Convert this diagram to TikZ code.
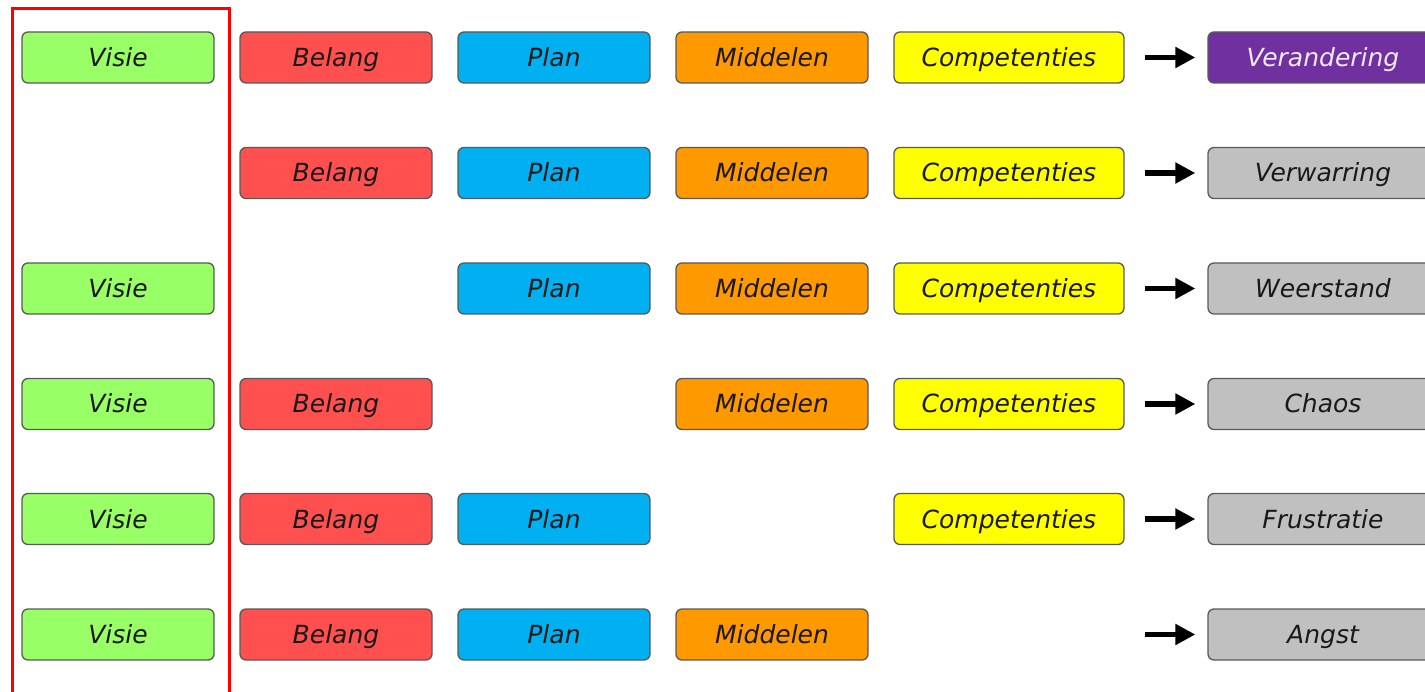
\documentclass[tikz,border=0pt]{standalone}
\usepackage{fontspec}
\setmainfont{DejaVu Sans}
\usetikzlibrary{positioning, arrows.meta}
\definecolor{visiegreen}{HTML}{99FF66}
\definecolor{belangred}{HTML}{FF5050}
\definecolor{planblue}{HTML}{00B0F0}
\definecolor{middelorange}{HTML}{FF9900}
\definecolor{compyellow}{HTML}{FFFF00}
\definecolor{verpurple}{HTML}{7030A0}
\definecolor{restgray}{HTML}{C0C0C0}
\tikzset{
box/.style={draw=black!65, line width=1.3pt, rounded corners=6pt, minimum width=192pt, minimum height=51pt, inner sep=0pt, text height=18pt, text depth=0pt, font=\fontsize{25}{30}\selectfont\itshape, text=black!90}, % common look of all boxes
visie/.style={box, fill=visiegreen},
belang/.style={box, fill=belangred},
plan/.style={box, fill=planblue},
middel/.style={box, fill=middelorange},
comp/.style={box, fill=compyellow, minimum width=230pt},
result/.style={box, fill=restgray, minimum width=230pt},
leads/.style={line width=5.5pt, -{Triangle[length=20pt, width=20pt]}, shorten >=12pt}, % the black arrows
}

\begin{document}
\begin{tikzpicture}[x=1pt, y=-1pt]
    \useasboundingbox (0,0) rectangle (1425,692);
    \clip (0,0) rectangle (1425,692);
    % row 1
    \node[visie] (v1) at (118,57.5) {Visie};
    \node[belang] (b1) at (336,57.5) {Belang};
    \node[plan] (p1) at (554,57.5) {Plan};
    \node[middel] (m1) at (772,57.5) {Middelen};
    \node[comp] (c1) at (1009,57.5) {Competenties};
    \node[result, fill=verpurple, text=white!90!verpurple] (r1) at (1323,57.5) {Verandering};
    % row 2
    \node[belang] (b2) at (336,173) {Belang};
    \node[plan] (p2) at (554,173) {Plan};
    \node[middel] (m2) at (772,173) {Middelen};
    \node[comp] (c2) at (1009,173) {Competenties};
    \node[result] (r2) at (1323,173) {Verwarring};
    % row 3
    \node[visie] (v3) at (118,288.5) {Visie};
    \node[plan] (p3) at (554,288.5) {Plan};
    \node[middel] (m3) at (772,288.5) {Middelen};
    \node[comp] (c3) at (1009,288.5) {Competenties};
    \node[result] (r3) at (1323,288.5) {Weerstand};
    % row 4
    \node[visie] (v4) at (118,404) {Visie};
    \node[belang] (b4) at (336,404) {Belang};
    \node[middel] (m4) at (772,404) {Middelen};
    \node[comp] (c4) at (1009,404) {Competenties};
    \node[result] (r4) at (1323,404) {Chaos};
    % row 5
    \node[visie] (v5) at (118,519) {Visie};
    \node[belang] (b5) at (336,519) {Belang};
    \node[plan] (p5) at (554,519) {Plan};
    \node[comp] (c5) at (1009,519) {Competenties};
    \node[result] (r5) at (1323,519) {Frustratie};
    % row 6
    \node[visie] (v6) at (118,634.5) {Visie};
    \node[belang] (b6) at (336,634.5) {Belang};
    \node[plan] (p6) at (554,634.5) {Plan};
    \node[middel] (m6) at (772,634.5) {Middelen};
    \node[result] (r6) at (1323,634.5) {Angst};
    % arrows
    \foreach \i in {1,...,6}{
        \coordinate (a\i) at ([xshift=-62pt]r\i.west);
        \draw[leads] (a\i) -- (r\i.west);
    }
    % frame round the first column
    \draw[red, line width=3pt] (12.5,8.5) rectangle (229,710);
\end{tikzpicture}
\end{document}
